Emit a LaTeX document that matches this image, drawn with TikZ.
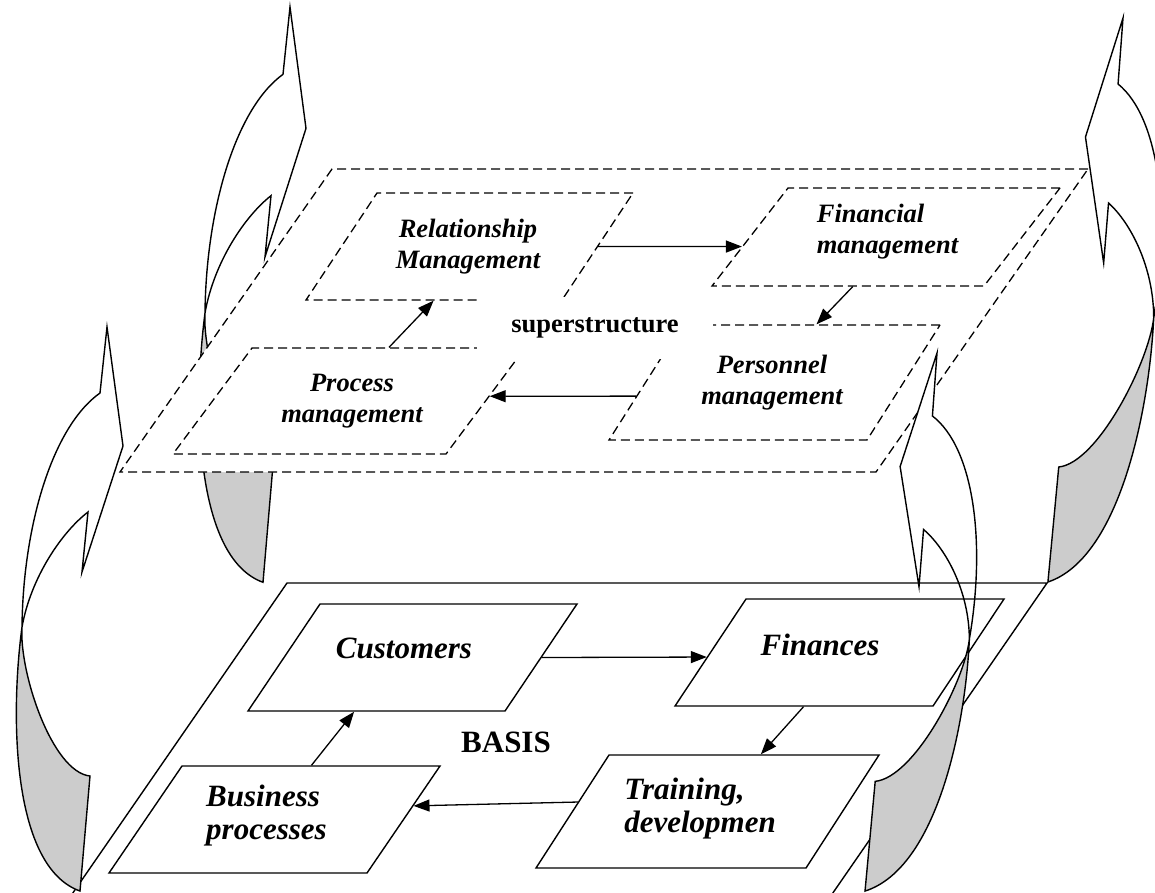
\documentclass[tikz,border=0pt]{standalone}
\usepackage{fontspec}
\setmainfont{Liberation Serif}
\usetikzlibrary{arrows.meta}
\definecolor{backgray}{gray}{0.8}
\tikzset{
  >={Triangle[length=16pt,width=12pt]},
  ssbox/.style = {rectangle, draw, dash pattern=on 9pt off 5pt, fill=white, line width=1.3pt, inner sep=0pt},
  bsbox/.style = {rectangle, draw, line width=1.4pt, inner sep=0pt},
  sstext/.style = {inner sep=0pt, align=center, font=\fontsize{26.5}{31}\selectfont\bfseries\itshape},
  bstext/.style = {inner sep=0pt, align=left, font=\fontsize{31}{33}\selectfont\bfseries\itshape},
  link/.style = {->, line width=1.3pt},
  frontpart/.style = {draw, fill=white, line width=1.4pt},
  backpart/.style = {draw, fill=backgray, line width=1.4pt}
}
% curved ribbon arrow, tip at the origin, y pointing down
\newcommand{\liftfront}{%
  \filldraw[frontpart] (-7,66) -- (0,0) -- (16,119) -- (-25,245) -- (-19,185)
    .. controls (-45,205) and (-76,250) .. (-85,300)
    .. controls (-84,200) and (-55,100) .. (-7,66) -- cycle;
}
\newcommand{\liftback}{%
  \filldraw[backpart] (-85,300) .. controls (-88,345) and (-55,445) .. (-17,449)
    -- (-27,564) .. controls (-95,540) and (-97,390) .. (-85,300) -- cycle;
}

\begin{document}
\begin{tikzpicture}[x=1pt, y=-1pt]
\useasboundingbox (0,0) rectangle (1155,892);
\clip (0,0) rectangle (1155,892);

% arrow behind the superstructure
\begin{scope}[shift={(290,7)}, yscale=1.02]
  \liftfront
  \liftback
\end{scope}

% Superstructure
\node[ssbox, xslant=0.6997, minimum width=756, minimum height=303] (super) at (604,320.5) {};
\node[ssbox, xslant=0.6636, minimum width=256, minimum height=107] (rel) at (469.5,246.5) {};
\node[ssbox, xslant=0.7755, minimum width=272, minimum height=98] (fin) at (886,237) {};
\node[ssbox, xslant=0.6348, minimum width=258, minimum height=115] (pers) at (774.5,382.5) {};
\node[ssbox, xslant=0.7453, minimum width=273, minimum height=106] (proc) at (349,401) {};
\node[sstext] (reltext) at (468,246.3) {Relationship\\Management};
\node[sstext, align=left] (fintext) at (887.5,231.8) {Financial\\management};
\node[sstext] (perstext) at (772,382.3) {Personnel\\management};
\node[sstext] (proctext) at (352,401) {Process\\management};
\node[fill=white, inner sep=0pt, minimum width=236, minimum height=62, font=\fontsize{26.5}{31}\selectfont\bfseries] (sslabel) at (595,328) {superstructure};
\draw[link] (rel.east) -- (fin.184);
\draw[link] (fin.276) -- (pers.85);
\draw[link] (pers.186) -- (proc.2);
\draw[link] (proc.north) -- (rel.south);

% front of the right arrow lies under the basis lines
\begin{scope}[shift={(937,353)}, cm={-1,0,0.1755,0.954,(0,0)}]
  \liftfront
\end{scope}

% Basis
\node[bsbox, xslant=0.6909, minimum width=760, minimum height=317] (basis) at (557.5,741.5) {};
\node[bsbox, xslant=0.6729, minimum width=257, minimum height=107] (cust) at (412.5,657.5) {};
\node[bsbox, xslant=0.6636, minimum width=258, minimum height=107] (finc) at (839.5,652.5) {};
\node[bsbox, xslant=0.646, minimum width=270, minimum height=113] (train) at (707.5,811.5) {};
\node[bsbox, xslant=0.6822, minimum width=258, minimum height=107] (bus) at (274.5,819.5) {};
\node[bstext, anchor=base] (custtext) at (404,658) {Customers};
\node[bstext, anchor=base] (finctext) at (820,655) {Finances};
\node[bstext] (traintext) at (700,808.5) {Training,\\developmen};
\node[bstext] (bustext) at (266.5,815.5) {Business\\processes};
\node[inner sep=0pt, anchor=base, font=\fontsize{31}{33}\selectfont\bfseries] (basislabel) at (506,752) {BASIS};
\draw[link] (cust.east) -- (finc.182);
\draw[link] (finc.south) -- (train.74);
\draw[link] (train.176) -- (bus.6);
\draw[link] (bus.north) -- (cust.248);

% arrows in front
\begin{scope}[shift={(937,353)}, cm={-1,0,0.1755,0.954,(0,0)}]
  \liftback
\end{scope}
\begin{scope}[shift={(107,327)}]
  \liftfront
  \liftback
\end{scope}
\begin{scope}[shift={(1123,18)}, cm={-1,0,0.181,1,(0,0)}]
  \liftfront
  \liftback
\end{scope}
\end{tikzpicture}
\end{document}
